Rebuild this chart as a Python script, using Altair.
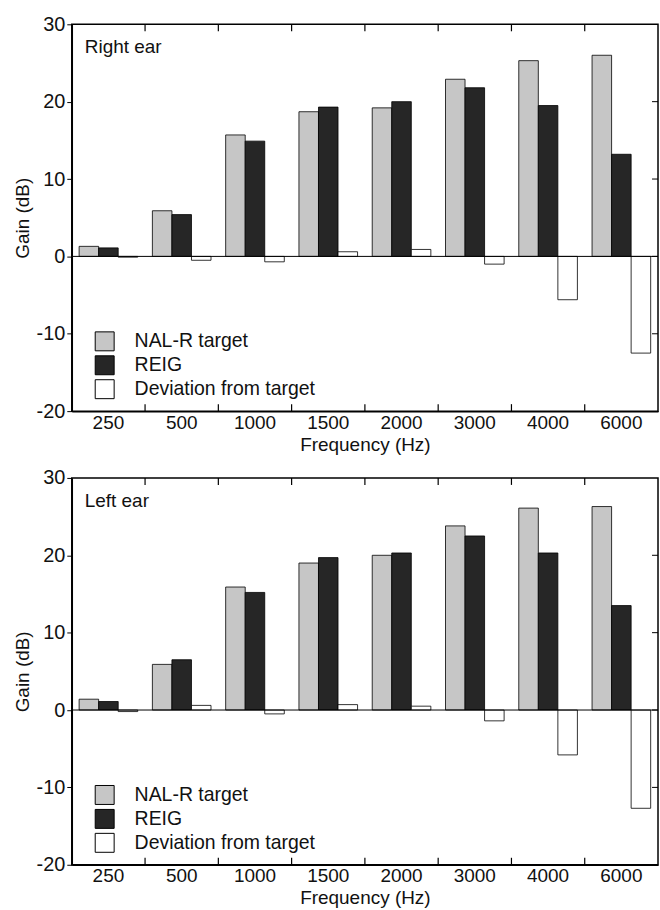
import altair as alt
import pandas as pd

freqs = ["250", "500", "1000", "1500", "2000", "3000", "4000", "6000"]
series = ["NAL-R target", "REIG", "Deviation from target"]
fills = ["#c6c6c6", "#262626", "#ffffff"]

right_target = [1.3, 5.9, 15.7, 18.7, 19.2, 22.9, 25.3, 26.0]
right_reig = [1.1, 5.4, 14.9, 19.3, 20.0, 21.8, 19.5, 13.2]
right_dev = [-0.1, -0.5, -0.7, 0.6, 0.9, -1.0, -5.6, -12.5]

left_target = [1.4, 5.9, 15.9, 19.0, 20.0, 23.8, 26.1, 26.3]
left_reig = [1.1, 6.5, 15.2, 19.7, 20.3, 22.5, 20.3, 13.5]
left_dev = [-0.2, 0.6, -0.5, 0.7, 0.5, -1.4, -5.8, -12.7]

y_ticks = [-20, -10, 0, 10, 20, 30]
right_side_ticks = [-10, 0, 10, 20]

W, H = 588, 388
FONT = "Liberation Sans"
FS = 19


def panel(label, target, reig, dev):
    rows = []
    for name, vals in zip(series, [target, reig, dev]):
        for f, v in zip(freqs, vals):
            rows.append({"freq": f, "series": name, "value": v})
    df = pd.DataFrame(rows)

    bars = alt.Chart(df).mark_bar(stroke="black", strokeWidth=0.8).encode(
        x=alt.X("freq:N", sort=freqs,
                scale=alt.Scale(paddingInner=0.2, paddingOuter=0.1),
                axis=alt.Axis(title="Frequency (Hz)", labelAngle=0, ticks=False,
                              domainColor="black", domainWidth=1.5,
                              labelFontSize=FS, titleFontSize=FS,
                              labelPadding=2, titlePadding=3,
                              labelColor="#111", titleColor="#111",
                              titleFontWeight="normal", grid=False)),
        xOffset=alt.XOffset("series:N", sort=series,
                            scale=alt.Scale(paddingInner=0, paddingOuter=0)),
        y=alt.Y("value:Q", scale=alt.Scale(domain=[-20, 30], nice=False),
                axis=alt.Axis(title="Gain (dB)", values=y_ticks, tickSize=5,
                              labelExpr="datum.value + ''",
                              tickColor="black", domainColor="black", domainWidth=1.5,
                              labelFontSize=FS + 1, titleFontSize=FS,
                              labelColor="#111", titleColor="#111",
                              titleFontWeight="normal", titlePadding=4,
                              labelPadding=2, grid=False)),
        color=alt.Color("series:N", sort=series,
                        scale=alt.Scale(domain=series, range=fills),
                        legend=alt.Legend(title=None, orient="none",
                                          legendX=23, legendY=308,
                                          symbolType="square", symbolSize=361,
                                          symbolStrokeColor="black",
                                          symbolStrokeWidth=1,
                                          symbolOpacity=1,
                                          labelFontSize=19.5, labelColor="#111",
                                          labelLimit=400,
                                          labelOffset=20, rowPadding=0,
                                          padding=0)),
    )

    zero = alt.Chart(pd.DataFrame({"v": [0]})).mark_rule(
        color="black", strokeWidth=1).encode(y="v:Q")

    bounds = pd.DataFrame({"b": list(range(1, len(freqs)))})
    bx = alt.X("b:Q", scale=alt.Scale(domain=[0, len(freqs)], nice=False), axis=None)
    bottom_ticks = alt.Chart(bounds).mark_rule(color="black", strokeWidth=1.2).encode(
        x=bx, y=alt.value(H), y2=alt.value(H - 7))
    top_ticks = alt.Chart(bounds).mark_rule(color="black", strokeWidth=1.2).encode(
        x=bx, y=alt.value(0), y2=alt.value(7))

    rt = alt.Chart(pd.DataFrame({"v": right_side_ticks})).mark_rule(
        color="black", strokeWidth=1).encode(
        x=alt.value(W - 6), x2=alt.value(W), y="v:Q")

    txt = alt.Chart(pd.DataFrame({"t": [label]})).mark_text(
        align="left", baseline="middle", fontSize=FS, color="#111", font=FONT).encode(
        x=alt.value(13), y=alt.value(23), text="t:N")

    return alt.layer(bars, zero, rt, txt, bottom_ticks, top_ticks).resolve_scale(
        x="independent").properties(width=W, height=H)


top = panel("Right ear", right_target, right_reig, right_dev)
bottom = panel("Left ear", left_target, left_reig, left_dev)

chart = alt.vconcat(top, bottom, spacing=12).resolve_legend(
    color="independent").resolve_scale(color="independent").properties(
    padding={"left": 12, "top": 12, "right": 0, "bottom": 0}
).configure(font=FONT).configure_view(stroke="black", strokeWidth=1.5)

chart.save("out.html", embed_options={"renderer": "svg", "actions": False})
